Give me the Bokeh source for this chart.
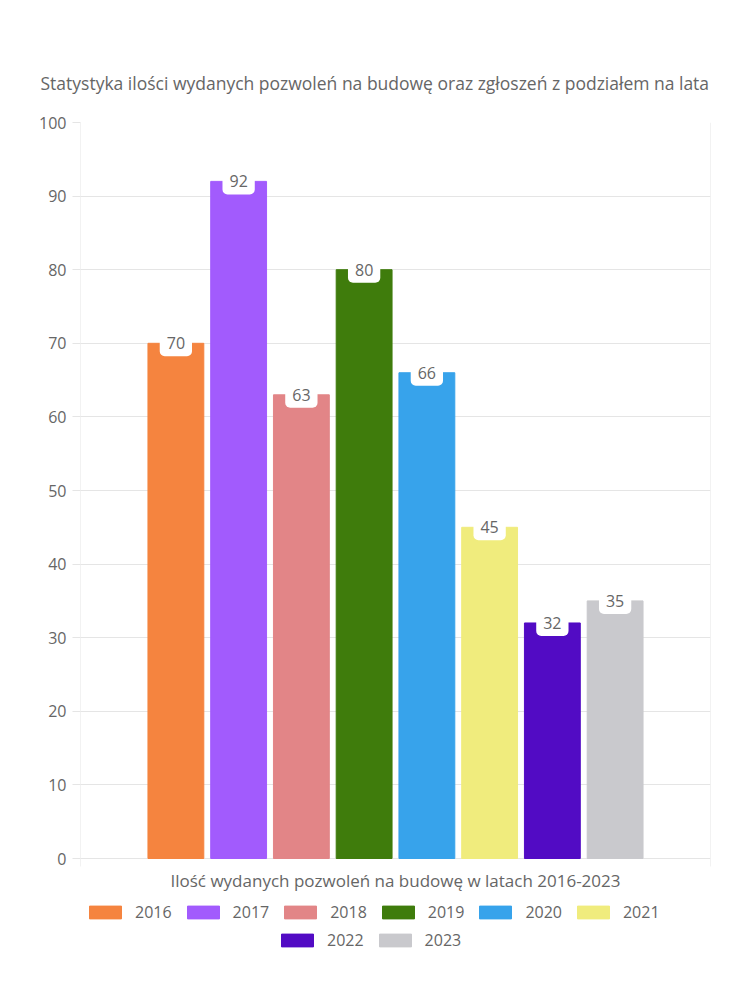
from bokeh.plotting import figure
from bokeh.models import (Range1d, FactorRange, ColumnDataSource, Legend, LegendItem, FixedTicker)
from bokeh.core.properties import value
from bokeh.embed import file_html
from bokeh.resources import INLINE

title_text = "Statystyka ilości wydanych pozwoleń na budowę oraz zgłoszeń z podziałem na lata"
xlabel_text = "Ilość wydanych pozwoleń na budowę w latach 2016-2023"
years = ["2016", "2017", "2018", "2019", "2020", "2021", "2022", "2023"]
counts = [70, 92, 63, 80, 66, 45, 32, 35]
colors = ["#F5843F", "#A25BFD", "#E28587", "#3F7C0C", "#37A3EB", "#F0EC7D", "#520BC4", "#C9C9CD"]
y_ticks = [0, 10, 20, 30, 40, 50, 60, 70, 80, 90, 100]

FONT = "Open Sans"
TXT = "#666666"
GRID = "#e5e5e5"

PAD = 1.02                      # category padding at each side (in category widths)
PX_PER_UNIT = 736 / 100         # value axis: 100 units over 736 px
Y_LOW = -132 / PX_PER_UNIT      # frame extends below 0 to hold the legend
TICK = 8 / PX_PER_UNIT          # small tick below the baseline
x_left, x_right = -PAD, len(years) + PAD

p = figure(width=750, height=1000, output_backend="svg", toolbar_location=None,
           x_range=FactorRange(factors=years, range_padding=PAD, range_padding_units="absolute"),
           y_range=Range1d(Y_LOW, 100), x_axis_location=None,
           min_border_left=80, min_border_right=40, min_border_top=122, min_border_bottom=10)
p.frame_height = 868
p.frame_width = 630
p.outline_line_color = None
p.background_fill_color = "white"
for g in p.grid:
    if g.dimension == 0:
        g.visible = False

p.title.text = title_text
p.title.align = "left"
p.title.offset = -40
p.title.standoff = 56
p.title.text_font = FONT
p.title.text_font_size = "17.5px"
p.title.text_font_style = "normal"
p.title.text_color = TXT

p.yaxis.ticker = FixedTicker(ticks=y_ticks)
p.yaxis.axis_line_color = None
p.yaxis.major_tick_line_color = GRID
p.yaxis.major_tick_out = 8
p.yaxis.major_tick_in = 0
p.yaxis.minor_tick_line_color = None
p.yaxis.major_label_standoff = 6
p.yaxis.major_label_text_font = FONT
p.yaxis.major_label_text_font_size = "16px"
p.yaxis.major_label_text_color = TXT
p.ygrid.grid_line_color = GRID

# vertical border lines of the chart area (with their little ticks under the baseline)
p.segment(x0=[x_left, x_right], y0=[-TICK, -TICK], x1=[x_left, x_right], y1=[100, 100],
          line_color=GRID, line_width=1)

items = []
for yr, v, c in zip(years, counts, colors):
    r = p.vbar(x=[yr], top=[v], width=0.89, fill_color=c, line_color=c)
    items.append(LegendItem(label=yr, renderers=[r]))

src = ColumnDataSource(dict(x=years, y=counts, t=[str(v) for v in counts]))
p.text(x="x", y="y", text="t", source=src, text_align="center", text_baseline="middle",
       text_font=value(FONT), text_font_size="16px", text_color=TXT,
       background_fill_color="white", border_radius=5, padding=7)

# axis title under the baseline
p.text(x=[(x_left + x_right) / 2], y=[0], text=[xlabel_text], y_offset=22,
       text_align="center", text_baseline="middle", text_font=value(FONT),
       text_font_size="17px", text_color=TXT)

def mk_legend(its, loc):
    return Legend(items=its, orientation="horizontal", location=loc, padding=0, margin=0,
                  spacing=11, glyph_width=40, glyph_height=16, label_standoff=10,
                  label_height=16, label_text_font=FONT, label_text_font_size="16px",
                  label_text_color=TXT, border_line_color=None, background_fill_alpha=0)

p.add_layout(mk_legend(items[:6], (5, 67)), "center")
p.add_layout(mk_legend(items[6:], (197, 39)), "center")

open("out.html", "w").write(file_html(p, INLINE))
